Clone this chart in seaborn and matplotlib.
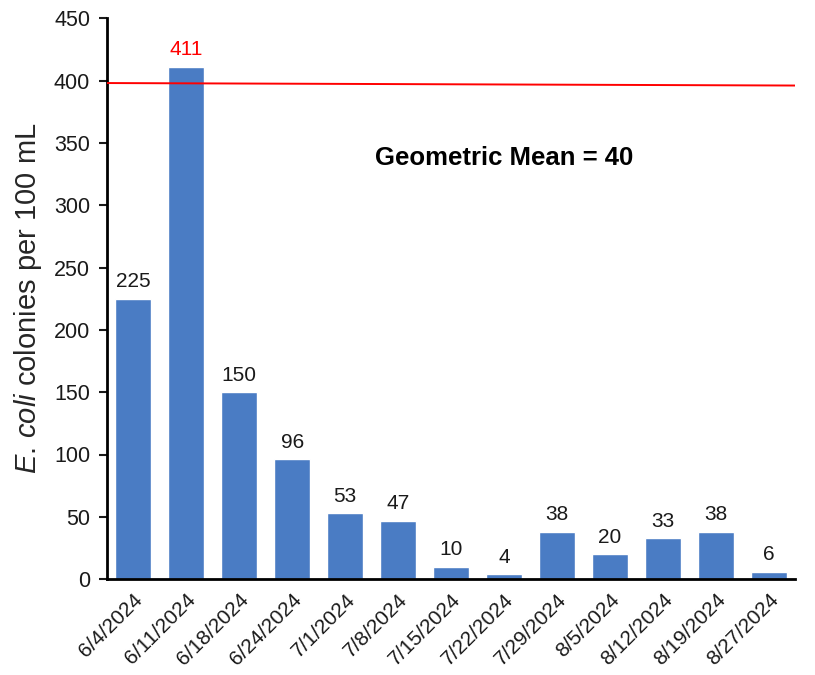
import numpy as np
import pandas as pd
import matplotlib
matplotlib.use("Agg")
import matplotlib.pyplot as plt
import seaborn as sns

# Data
dates = ["6/4/2024", "6/11/2024", "6/18/2024", "6/24/2024", "7/1/2024", "7/8/2024",
         "7/15/2024", "7/22/2024", "7/29/2024", "8/5/2024", "8/12/2024", "8/19/2024",
         "8/27/2024"]
counts = [225, 411, 150, 96, 53, 47, 10, 4, 38, 20, 33, 38, 6]
limit_line = [398, 396]   # red reference line (drawn slightly tilted in original)
geo_mean = 40

sns.set_style("white")
plt.rcParams["font.family"] = ["Liberation Sans", "DejaVu Sans"]
plt.rcParams["mathtext.fontset"] = "custom"
plt.rcParams["mathtext.it"] = "Liberation Sans:italic"
plt.rcParams["mathtext.rm"] = "Liberation Sans"

df = pd.DataFrame({"date": dates, "count": counts})

fig = plt.figure(figsize=(8.15, 6.75), dpi=100)
ax = fig.add_axes([0.131, 0.142, 0.845, 0.831])

sns.barplot(data=df, x="date", y="count", color="#4a7cc4", saturation=1,
            width=0.68, ax=ax)

# value labels
for i, v in enumerate(counts):
    ax.text(i, v + 6, str(v), ha="center", va="bottom", fontsize=15,
            color="red" if v > 400 else "#1a1a1a")

# red threshold line
ax.plot([-0.5, len(dates) - 0.5], limit_line, color="red", lw=1.4, zorder=3)

ax.text(7.0, 338, f"Geometric Mean = {geo_mean}", ha="center", va="center",
        fontsize=18.5, fontweight="bold", color="black")

ax.set_xlim(-0.5, len(dates) - 0.5)
ax.set_ylim(0, 450)
ax.set_yticks(np.arange(0, 451, 50))
ax.set_xlabel("")
ax.set_ylabel(r"$\it{E.\,coli}$ colonies per 100 mL", fontsize=21, labelpad=7)

ax.tick_params(axis="y", labelsize=15.5, left=True, length=6, width=1.5,
               direction="out", pad=6, colors="#1a1a1a")
ax.tick_params(axis="x", labelsize=15, bottom=False, pad=4)
plt.setp(ax.get_xticklabels(), rotation=45, ha="right", rotation_mode="anchor",
         color="#1a1a1a")

for s in ["top", "right"]:
    ax.spines[s].set_visible(False)
for s in ["left", "bottom"]:
    ax.spines[s].set_linewidth(2)
    ax.spines[s].set_color("black")

fig.savefig("out.png", dpi=100)
